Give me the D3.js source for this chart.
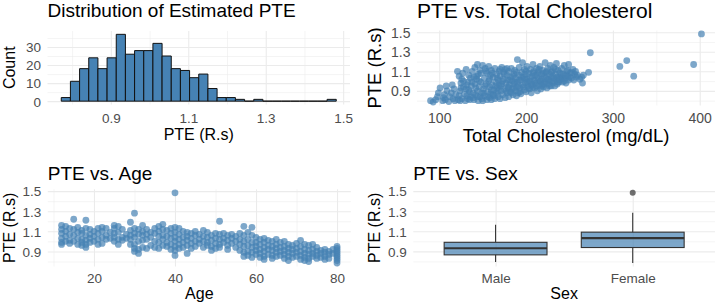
<!DOCTYPE html>
<html>
<head>
<meta charset="utf-8">
<script src="https://cdn.jsdelivr.net/npm/d3@7"></script>
<style>
body { margin: 0; background: #fff; }
svg { display: block; }
</style>
</head>
<body>
<script>
// ---- data ----
var histCounts = [2, 11, 18, 24, 18, 24, 37, 26, 28, 28, 32, 25, 18, 17, 13, 15, 7, 2, 2, 1, 0, 1, 0, 0, 0, 0, 0, 0, 0, 1];
var binMin = 0.772, binWidth = 0.02367;
var histTicks = [0.9, 1.1, 1.3, 1.5];
var countTicks = [0, 10, 20, 30];

var cholPoints = [
  [90,0.80],[93,0.785],[96,0.81],[99,0.88],[101,0.93],[98,0.84],
  [104,0.80],[106,0.86],[107,0.81],[108,0.95],[109,0.90],[105,0.83],
  [111,0.79],[112,0.84],[114,0.88],[115,0.96],[116,0.82],[117,0.92],[118,0.80],[119,0.86],
  [121,1.10],[122,0.81],[123,0.85],[123,1.05],[124,0.90],[125,0.98],[126,0.82],[127,1.08],[128,0.94],[129,0.87],[126,1.02],[124,0.80],
  [130,0.80],[131,1.12],[131,0.92],[132,0.85],[133,0.99],[134,1.06],[135,0.81],[135,0.89],[136,1.03],[137,0.95],[138,1.10],[139,0.83],[139,0.88],[133,0.82],
  [140,0.81],[141,0.97],[141,1.14],[142,0.86],[143,1.02],[144,0.90],[144,1.17],[145,0.80],[145,1.07],[146,0.94],[147,0.84],[147,1.11],[148,0.99],[149,0.82],[149,0.88],[143,1.05],
  [150,0.80],[150,1.16],[151,0.92],[152,1.03],[152,0.85],[153,1.13],[154,0.97],[155,0.81],[155,1.08],[156,0.89],[157,1.00],[157,1.15],[158,0.83],[158,0.94],[159,1.06],[159,0.87],
  [160,0.81],[160,1.11],[161,0.96],[162,0.86],[162,1.04],[163,0.91],[164,1.13],[164,0.82],[165,0.99],[166,1.07],[166,0.88],[167,0.93],[168,1.01],[168,0.84],[169,1.10],[169,0.96],
  [170,0.82],[170,1.05],[171,0.90],[172,1.14],[172,0.97],[173,0.86],[174,1.02],[174,1.09],[175,0.92],[176,0.83],[176,1.12],[177,0.98],[178,0.88],[178,1.06],[179,0.94],[179,1.01],
  [180,0.84],[180,1.10],[181,0.96],[182,1.04],[182,0.89],[183,1.13],[184,0.92],[184,1.00],[185,0.86],[186,1.07],[186,0.97],[187,1.11],[188,0.90],[188,1.03],[189,0.94],[189,0.85],
  [190,1.22],[190,0.99],[191,0.88],[192,1.06],[192,1.14],[193,0.93],[194,1.01],[194,0.87],[195,1.09],[196,0.96],[196,1.19],[197,1.04],[198,0.91],[198,1.12],[199,0.98],[199,1.07],
  [200,0.89],[201,1.02],[201,1.15],[202,0.95],[203,1.08],[204,0.92],[204,1.00],[205,1.12],[206,0.97],[206,0.88],[207,1.05],[208,1.17],[208,0.94],[209,1.01],[209,1.10],
  [210,0.93],[211,1.06],[211,0.98],[212,1.13],[213,0.90],[214,1.03],[214,1.09],[215,0.96],[216,1.00],[216,1.15],[217,0.92],[218,1.07],[218,1.02],[219,0.97],[219,1.11],
  [220,0.94],[221,1.05],[222,1.19],[222,0.99],[223,1.09],[224,0.93],[225,1.02],[225,1.13],[226,0.97],[227,1.07],[228,1.00],[228,1.16],[229,0.95],[229,1.04],
  [230,1.10],[231,0.98],[232,1.03],[232,1.14],[233,0.95],[234,1.07],[235,1.01],[235,1.18],[236,0.97],[237,1.11],[238,1.04],[238,0.99],[239,1.08],
  [240,1.02],[241,1.13],[242,0.99],[243,1.07],[244,1.16],[245,1.03],[246,0.98],[247,1.10],[248,1.05],[249,1.17],[249,1.01],
  [251,1.08],[252,1.03],[254,1.12],[256,1.07],[258,1.04],[259,1.06],
  [262,1.02],[264,1.04],[265,0.98],[266,1.06],[272,1.09],[274,1.29],
  [125,0.93],[128,1.00],[132,0.96],[134,0.91],[136,0.84],[138,0.99],[140,1.04],[142,0.93],[144,0.84],[146,1.00],
  [148,1.08],[151,0.88],[153,0.95],[154,1.10],[156,0.84],[158,1.02],[160,0.91],[161,1.08],[163,0.85],[165,0.95],
  [167,1.03],[168,0.90],[170,1.12],[171,0.95],[173,1.00],[175,1.07],[177,0.90],[178,1.13],[180,0.93],[181,1.01],
  [183,0.88],[185,1.05],[186,0.93],[187,0.99],[189,1.09],[191,0.95],[192,1.01],[193,0.89],[195,1.04],[197,0.94],
  [199,1.02],[200,1.10],[202,0.99],[203,0.93],[205,1.04],[207,0.96],[208,1.08],[210,1.00],[212,0.95],[213,1.06],
  [215,1.12],[217,1.00],[218,0.95],[220,1.08],[221,0.97],[223,1.03],[224,1.10],[226,1.01],[227,0.95],[229,1.09],
  [231,1.05],[233,1.00],[234,1.12],[236,1.04],[237,0.99],[239,1.02],[241,1.07],[242,1.03],[244,1.00],[246,1.06],
  [248,1.11],[250,1.04],[253,1.09],[255,1.01],[257,1.10],
  [308,1.15],[316,1.21],[324,1.05],[393,1.17],[402,1.483]
];
var cholTicks = [100, 200, 300, 400];

var ageGroups = [
  [12,[1.16,1.12,1.08,1.03,0.99,0.97]],[13,[1.15,1.10,1.05,1.00]],[14,[1.13,1.07,1.01,0.98]],
  [15,[1.22,1.12,1.06,1.00]],[16,[1.14,1.09,1.03,0.97]],[17,[1.11,1.08,1.02,0.96,0.99]],
  [18,[1.21,1.13,1.06,1.01,0.94,0.97]],[19,[1.12,1.07,1.03,0.99]],[20,[1.10,1.05,1.00]],
  [21,[1.13,1.08,0.97,1.02]],[22,[1.14,1.10,1.04,0.98]],[23,[1.13,1.06,1.02]],[24,[1.09,1.03]],
  [25,[1.16,1.13,1.08,1.04,1.00]],[26,[1.15,1.09,1.02,0.97]],[27,[1.12,1.04,1.01]],[28,[1.07,1.03]],
  [29,[1.19,1.11,1.06,1.02,0.97]],[30,[1.28,1.13,1.08,1.04,0.97,0.93,0.90]],[31,[1.12,1.07,1.00,0.92,0.88]],
  [32,[1.16,1.10,1.06,1.01,0.94]],[33,[1.12,1.07,1.02,0.93]],[34,[1.09,1.04,0.96]],[35,[1.13,1.08,1.00,0.94]],
  [36,[1.15,1.10,1.05,0.99,0.93]],[37,[1.17,1.12,1.06,1.02,0.96]],[38,[1.11,1.05,0.99,0.95]],
  [39,[1.13,1.08,1.03,0.97,0.92]],[40,[1.483,1.14,1.09,1.04,1.00,0.95,0.91,0.86]],[41,[1.13,1.07,1.02,0.97,0.93]],
  [42,[1.10,1.04,0.99,0.94]],[43,[1.09,1.05,1.01,0.96,0.88]],[44,[1.08,1.03,0.98,0.93]],[45,[1.10,1.06,1.00,0.95]],
  [46,[1.07,1.02,0.98]],[47,[1.11,1.05,1.00,0.94]],[48,[1.09,1.04,0.99,0.96]],[49,[1.06,1.01,0.95,0.91]],
  [50,[1.08,1.03,0.98,0.93]],[51,[1.20,1.07,1.02,0.97,0.94]],[52,[1.08,1.03,0.99]],[53,[1.06,1.01,0.96,0.92]],
  [54,[1.07,1.03,0.98]],[55,[1.05,1.00,0.94]],[56,[1.08,1.02,0.97,0.91]],[57,[1.15,1.06,1.00,0.95,0.89,0.85]],
  [58,[1.09,1.02,0.96,0.90,0.86]],[59,[1.14,1.06,0.99,0.94,0.89,0.84]],[60,[1.04,0.99,0.95,0.91,0.87]],
  [61,[1.02,0.97,0.92,0.88,0.84]],[62,[1.03,0.99,0.94,0.90,0.85,0.82]],[63,[1.01,0.96,0.92,0.87]],
  [64,[1.00,0.95,0.91,0.86,0.83]],[65,[1.02,0.97,0.93,0.89,0.85]],[66,[0.99,0.94,0.90,0.86]],
  [67,[1.00,0.95,0.91,0.87,0.83]],[68,[0.97,0.93,0.89,0.85,0.81]],[69,[0.96,0.92,0.88,0.84]],
  [70,[0.98,0.93,0.89,0.85]],[71,[1.01,0.95,0.90,0.86,0.82]],[72,[0.97,0.92,0.88,0.84,0.81]],
  [73,[0.96,0.91,0.87,0.83,0.80]],[74,[0.97,0.92,0.88,0.85]],[75,[0.94,0.90,0.86,0.83]],
  [76,[0.91,0.88,0.84]],[77,[0.92,0.89,0.85,0.82]],[78,[0.90,0.87,0.83]],[79,[0.92,0.88]],
  [80,[0.95,0.93,0.91,0.89,0.87,0.85,0.83,0.81,0.785]]
];
var ageTicks = [20, 40, 60, 80];

var sexCats = ["Male", "Female"];
var boxLower = [0.795, 0.784];
var boxQ1 = [0.865, 0.938];
var boxMedian = [0.931, 1.031];
var boxQ3 = [0.990, 1.091];
var boxUpper = [1.164, 1.285];
var boxOutliers = [[], [1.483]];

var pteTicks = [0.9, 1.1, 1.3, 1.5];

// ---- layout ----
var W = 720, H = 306;
var FONT = "'Liberation Sans', Arial, Helvetica, sans-serif";
var GRID = "#EBEBEB";
var BLUE = "steelblue";

var svg = d3.select("body").append("svg")
    .attr("width", W).attr("height", H)
    .style("font-family", FONT);

function expand(ext) {
  var r = ext[1] - ext[0];
  return [ext[0] - 0.05 * r, ext[1] + 0.05 * r];
}
function minorsOf(ticks, dom) {
  var s = ticks[1] - ticks[0];
  var m = [ticks[0] - s / 2].concat(ticks.map(function(t) { return t + s / 2; }));
  return m.filter(function(v) { return v > dom[0] && v < dom[1]; });
}

// draws grid, tick labels and titles of one panel
function frame(o) {
  var g = svg.append("g");
  var L = o.rect.l, R = o.rect.r, T = o.rect.t, B = o.rect.b;

  // minor grid
  if (o.xMinor) {
    g.append("g").attr("transform", "translate(0," + B + ")")
      .call(d3.axisBottom(o.x).tickValues(minorsOf(o.xTicks, o.x.domain())).tickSize(-(B - T)).tickFormat(""))
      .call(function(a) { a.select(".domain").remove(); a.selectAll("line").attr("stroke", GRID).attr("stroke-width", 0.55); });
  }
  g.append("g").attr("transform", "translate(" + L + ",0)")
    .call(d3.axisLeft(o.y).tickValues(minorsOf(o.yTicks, o.y.domain())).tickSize(-(R - L)).tickFormat(""))
    .call(function(a) { a.select(".domain").remove(); a.selectAll("line").attr("stroke", GRID).attr("stroke-width", 0.55); });

  // major grid + labels
  var xa = d3.axisBottom(o.x).tickSize(-(B - T)).tickPadding(0);
  if (o.xTicks) xa.tickValues(o.xTicks);
  if (o.xFmt) xa.tickFormat(o.xFmt);
  g.append("g").attr("transform", "translate(0," + B + ")").call(xa)
    .call(function(a) {
      a.select(".domain").remove();
      a.selectAll("line").attr("stroke", GRID).attr("stroke-width", 1.1);
      a.attr("font-family", FONT);
      a.selectAll("text").attr("fill", "#4D4D4D").attr("font-size", o.tickSize)
        .attr("dy", null).attr("y", o.xLabelY - B);
    });

  g.append("g").attr("transform", "translate(" + L + ",0)")
    .call(d3.axisLeft(o.y).tickValues(o.yTicks).tickSize(-(R - L)).tickPadding(6.5).tickFormat(o.yFmt))
    .call(function(a) {
      a.select(".domain").remove();
      a.selectAll("line").attr("stroke", GRID).attr("stroke-width", 1.1);
      a.attr("font-family", FONT);
      a.selectAll("text").attr("fill", "#4D4D4D").attr("font-size", o.tickSize).attr("dy", "0.36em");
    });

  // titles
  svg.append("text").attr("x", L).attr("y", o.titleY)
    .attr("font-size", o.titleSize).attr("fill", "#000").text(o.title);
  svg.append("text").attr("x", (L + R) / 2).attr("y", o.xTitleY)
    .attr("text-anchor", "middle").attr("font-size", o.axisSize).attr("fill", "#000").text(o.xTitle);
  svg.append("text")
    .attr("transform", "translate(" + o.yTitleX + "," + (T + B) / 2 + ") rotate(-90)")
    .attr("text-anchor", "middle").attr("font-size", o.axisSize).attr("fill", "#000").text(o.yTitle);
  return g;
}

var fmt1 = d3.format(".1f");

// ---- 1. histogram ----
var P1 = { l: 47.5, r: 350, t: 31, b: 104.5 };
var binEdges = histCounts.map(function(c, i) { return binMin + i * binWidth; });
var x1 = d3.scaleLinear().domain(expand([binMin, binMin + histCounts.length * binWidth])).range([P1.l, P1.r]);
var y1 = d3.scaleLinear().domain(expand([0, d3.max(histCounts)])).range([P1.b, P1.t]);
frame({ rect: P1, x: x1, y: y1, xTicks: histTicks, yTicks: countTicks, xMinor: true,
  xFmt: fmt1, yFmt: d3.format("d"), tickSize: 13.5, xLabelY: 123,
  title: "Distribution of Estimated PTE", titleSize: 19, titleY: 17,
  xTitle: "PTE (R.s)", xTitleY: 139.5, yTitle: "Count", yTitleX: 15, axisSize: 16 });

svg.append("g").selectAll("path").data(histCounts).enter().append("path")
  .attr("d", function(c, i) {
    var a = x1(binEdges[i]), b = x1(binEdges[i] + binWidth);
    return "M" + a + "," + y1(0) + "H" + b + "V" + y1(c) + "H" + a + "Z";
  })
  .attr("fill", BLUE).attr("stroke", "#111").attr("stroke-width", 1);

// ---- 2. cholesterol scatter ----
var P2 = { l: 417, r: 715, t: 30.5, b: 105.5 };
var x2 = d3.scaleLinear().domain(expand(d3.extent(cholPoints, function(d) { return d[0]; }))).range([P2.l, P2.r]);
var y2 = d3.scaleLinear().domain(expand(d3.extent(cholPoints, function(d) { return d[1]; }))).range([P2.b, P2.t]);
frame({ rect: P2, x: x2, y: y2, xTicks: cholTicks, yTicks: pteTicks, xMinor: true,
  xFmt: d3.format("d"), yFmt: fmt1, tickSize: 14, xLabelY: 123,
  title: "PTE vs. Total Cholesterol", titleSize: 21, titleY: 18,
  xTitle: "Total Cholesterol (mg/dL)", xTitleY: 141.5, yTitle: "PTE (R.s)", yTitleX: 380.5, axisSize: 18.5 });

svg.append("g").selectAll("circle").data(cholPoints).enter().append("circle")
  .attr("cx", function(d) { return x2(d[0]); })
  .attr("cy", function(d) { return y2(d[1]); })
  .attr("r", 3.4).attr("fill", BLUE).attr("fill-opacity", 0.7);

// ---- 3. age scatter ----
var agePoints = [];
ageGroups.forEach(function(g) { g[1].forEach(function(v) { agePoints.push([g[0], v]); }); });
var P3 = { l: 47.8, r: 350.8, t: 189.3, b: 266.5 };
var x3 = d3.scaleLinear().domain(expand(d3.extent(agePoints, function(d) { return d[0]; }))).range([P3.l, P3.r]);
var y3 = d3.scaleLinear().domain(expand(d3.extent(agePoints, function(d) { return d[1]; }))).range([P3.b, P3.t]);
frame({ rect: P3, x: x3, y: y3, xTicks: ageTicks, yTicks: pteTicks, xMinor: true,
  xFmt: d3.format("d"), yFmt: fmt1, tickSize: 13.5, xLabelY: 283,
  title: "PTE vs. Age", titleSize: 19, titleY: 179.5,
  xTitle: "Age", xTitleY: 298.5, yTitle: "PTE (R.s)", yTitleX: 15, axisSize: 16 });

svg.append("g").selectAll("circle").data(agePoints).enter().append("circle")
  .attr("cx", function(d) { return x3(d[0]); })
  .attr("cy", function(d) { return y3(d[1]); })
  .attr("r", 3.4).attr("fill", BLUE).attr("fill-opacity", 0.7);

// ---- 4. box plot by sex ----
var P4 = { l: 413.3, r: 715, t: 189.3, b: 266.5 };
var x4 = d3.scalePoint().domain(sexCats).range([P4.l, P4.r]).padding(0.6);
var allBox = boxLower.concat(boxUpper, d3.merge(boxOutliers));
var y4 = d3.scaleLinear().domain(expand(d3.extent(allBox))).range([P4.b, P4.t]);
frame({ rect: P4, x: x4, y: y4, yTicks: pteTicks, xMinor: false,
  yFmt: fmt1, tickSize: 13.5, xLabelY: 283,
  title: "PTE vs. Sex", titleSize: 19, titleY: 179.5,
  xTitle: "Sex", xTitleY: 298.5, yTitle: "PTE (R.s)", yTitleX: 380, axisSize: 16 });

var bw = x4.step() * 0.75;
var boxes = svg.append("g").selectAll("g").data(sexCats).enter().append("g");
boxes.append("line")
  .attr("x1", function(d) { return x4(d); }).attr("x2", function(d) { return x4(d); })
  .attr("y1", function(d, i) { return y4(boxUpper[i]); }).attr("y2", function(d, i) { return y4(boxQ3[i]); })
  .attr("stroke", "#333").attr("stroke-width", 1.1);
boxes.append("line")
  .attr("x1", function(d) { return x4(d); }).attr("x2", function(d) { return x4(d); })
  .attr("y1", function(d, i) { return y4(boxQ1[i]); }).attr("y2", function(d, i) { return y4(boxLower[i]); })
  .attr("stroke", "#333").attr("stroke-width", 1.1);
boxes.append("rect")
  .attr("x", function(d) { return x4(d) - bw / 2; }).attr("width", bw)
  .attr("y", function(d, i) { return y4(boxQ3[i]); })
  .attr("height", function(d, i) { return y4(boxQ1[i]) - y4(boxQ3[i]); })
  .attr("fill", BLUE).attr("fill-opacity", 0.7).attr("stroke", "#333").attr("stroke-width", 1.1);
boxes.append("line")
  .attr("x1", function(d) { return x4(d) - bw / 2; }).attr("x2", function(d) { return x4(d) + bw / 2; })
  .attr("y1", function(d, i) { return y4(boxMedian[i]); }).attr("y2", function(d, i) { return y4(boxMedian[i]); })
  .attr("stroke", "#333").attr("stroke-width", 2.2);
boxes.selectAll("circle").data(function(d, i) { return boxOutliers[i].map(function(v) { return [d, v]; }); })
  .enter().append("circle")
  .attr("cx", function(p) { return x4(p[0]); }).attr("cy", function(p) { return y4(p[1]); })
  .attr("r", 3).attr("fill", "#333").attr("fill-opacity", 0.7);
</script>
</body>
</html>
